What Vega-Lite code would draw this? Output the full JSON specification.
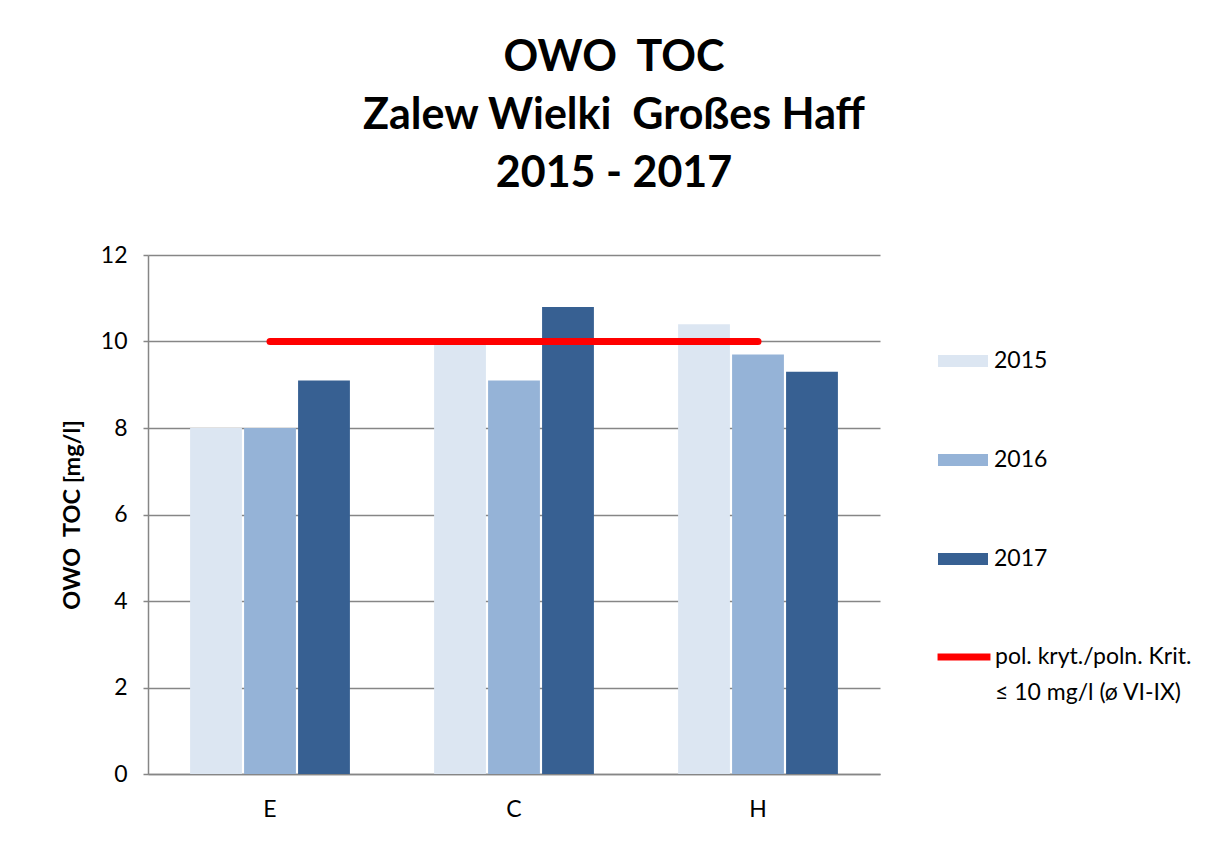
{
  "$schema": "https://vega.github.io/schema/vega-lite/v6.json",
  "width": 732,
  "height": 519,
  "autosize": {"type": "none"},
  "padding": {"left": 148, "top": 255, "right": 338, "bottom": 71},
  "background": "white",
  "title": {
    "text": ["OWO\u00a0\u00a0TOC", "Zalew Wielki\u00a0\u00a0Großes Haff", "2015 - 2017"],
    "font": "Lato",
    "fontSize": 43,
    "fontWeight": "bold",
    "lineHeight": 58,
    "color": "black",
    "anchor": "middle",
    "frame": "group",
    "dx": 100,
    "offset": 48
  },
  "datasets": {
    "bars": [
      {"site": "E", "year": "2015", "value": 8.0},
      {"site": "E", "year": "2016", "value": 8.0},
      {"site": "E", "year": "2017", "value": 9.1},
      {"site": "C", "year": "2015", "value": 10.0},
      {"site": "C", "year": "2016", "value": 9.1},
      {"site": "C", "year": "2017", "value": 10.8},
      {"site": "H", "year": "2015", "value": 10.4},
      {"site": "H", "year": "2016", "value": 9.7},
      {"site": "H", "year": "2017", "value": 9.3}
    ],
    "limit": [
      {"site": "E", "limit": 10},
      {"site": "C", "limit": 10},
      {"site": "H", "limit": 10}
    ]
  },
  "layer": [
    {
      "data": {"name": "bars"},
      "mark": {"type": "bar"},
      "encoding": {
        "x": {
          "field": "site",
          "type": "nominal",
          "sort": ["E", "C", "H"],
          "scale": {"paddingInner": 0.345, "paddingOuter": 0.1725},
          "axis": {
            "title": null,
            "labelAngle": 0,
            "labelFontSize": 23,
            "labelPadding": 24,
            "ticks": false,
            "grid": false
          }
        },
        "xOffset": {
          "field": "year",
          "type": "nominal",
          "sort": ["2015", "2016", "2017"],
          "scale": {"paddingInner": 0.04, "paddingOuter": 0}
        },
        "y": {
          "field": "value",
          "type": "quantitative",
          "scale": {"domain": [0, 12], "nice": false},
          "axis": {
            "title": "OWO\u00a0\u00a0TOC [mg/l]",
            "titleFontSize": 23.5,
            "titleFontWeight": "bold",
            "titlePadding": 16,
            "values": [0, 2, 4, 6, 8, 10, 12],
            "labelFontSize": 23,
            "labelPadding": 16,
            "tickSize": 5,
            "grid": true
          }
        },
        "color": {
          "field": "year",
          "type": "nominal",
          "scale": {"domain": ["2015", "2016", "2017"], "range": ["#dce6f2", "#95b3d7", "#376092"]},
          "legend": {
            "title": null,
            "orient": "none",
            "legendX": 790,
            "legendY": 81,
            "symbolType": "M-1,-0.24H1V0.24H-1Z",
            "symbolSize": 2500,
            "symbolStrokeWidth": 0,
            "labelFontSize": 23,
            "labelOffset": 6,
            "rowPadding": 62
          }
        }
      }
    },
    {
      "data": {"name": "limit"},
      "mark": {"type": "line", "strokeWidth": 7, "strokeCap": "round"},
      "encoding": {
        "x": {"field": "site", "type": "nominal", "sort": ["E", "C", "H"]},
        "y": {"field": "limit", "type": "quantitative"},
        "stroke": {
          "datum": "pol. kryt./poln. Krit.|≤ 10 mg/l (ø VI-IX)",
          "type": "nominal",
          "scale": {"range": ["#ff0000"]},
          "legend": {
            "title": null,
            "orient": "none",
            "legendX": 786,
            "legendY": 372,
            "symbolType": "stroke",
            "symbolSize": 2800,
            "symbolStrokeWidth": 7,
            "labelFontSize": 23,
            "labelOffset": 1,
            "labelBaseline": "middle",
            "labelExpr": "split(datum.label, '|')"
          }
        }
      }
    }
  ],
  "config": {
    "font": "Lato",
    "view": {"stroke": null},
    "style": {"guide-label": {"lineHeight": 36}},
    "axis": {
      "domainColor": "#868686",
      "domainWidth": 1.5,
      "gridColor": "#868686",
      "gridWidth": 1.5,
      "tickColor": "#868686",
      "tickWidth": 1.5,
      "labelColor": "black",
      "titleColor": "black",
      "labelFont": "Lato",
      "titleFont": "Lato"
    },
    "legend": {"labelColor": "black", "labelFont": "Lato", "labelLimit": 400}
  }
}
